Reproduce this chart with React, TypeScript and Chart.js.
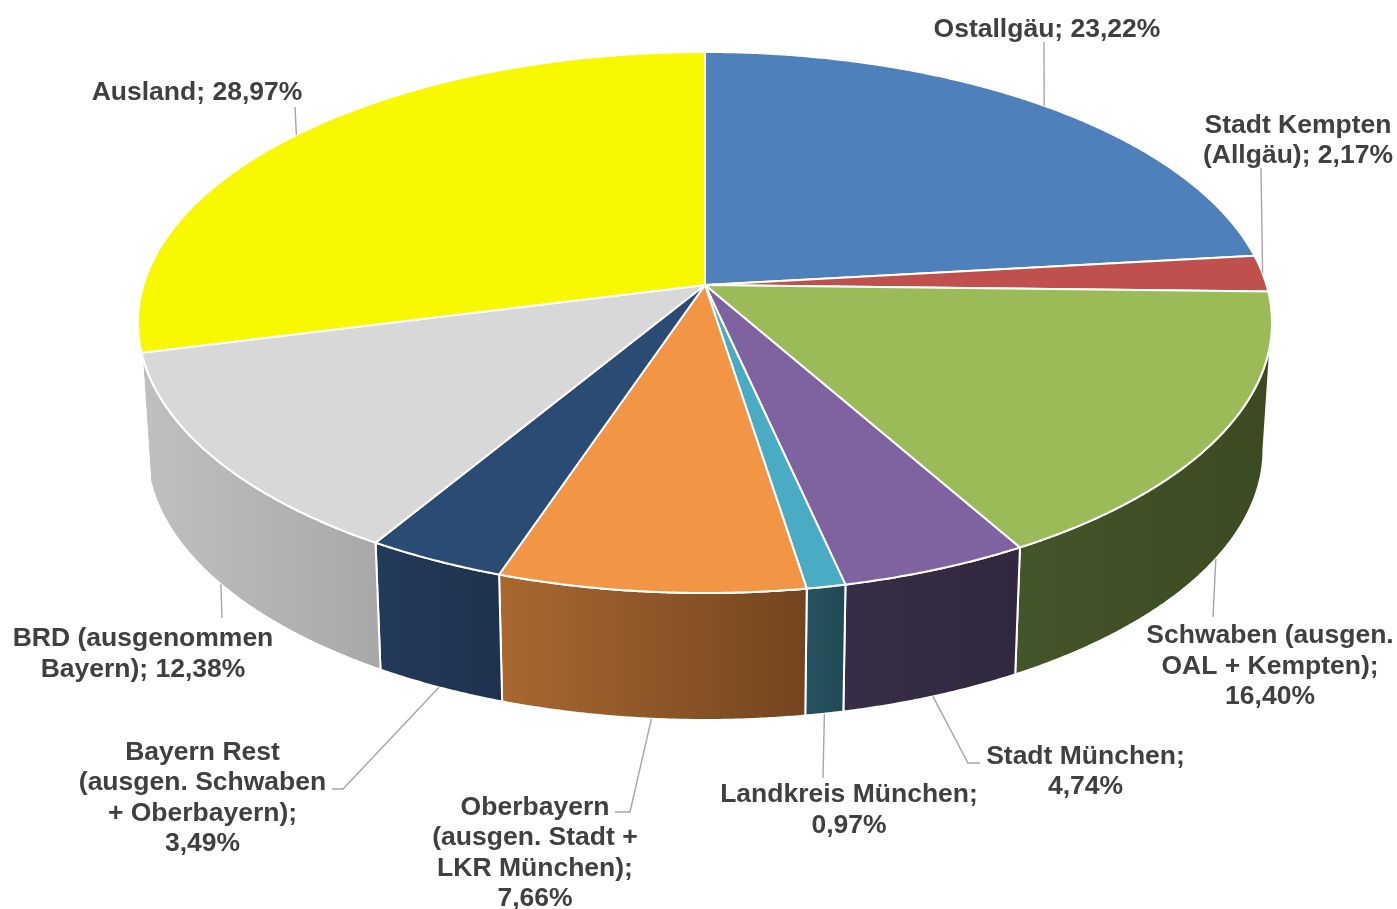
import React, { useEffect, useRef } from 'react';
import { Chart, registerables } from 'chart.js';

Chart.register(...registerables);

// ---------- data ----------
const categories = [
  'Ostallgäu',
  'Stadt Kempten (Allgäu)',
  'Schwaben (ausgen. OAL + Kempten)',
  'Stadt München',
  'Landkreis München',
  'Oberbayern (ausgen. Stadt + LKR München)',
  'Bayern Rest (ausgen. Schwaben + Oberbayern)',
  'BRD (ausgenommen Bayern)',
  'Ausland',
];
const shares = [23.22, 2.17, 16.4, 4.74, 0.97, 7.66, 3.49, 12.38, 28.97];

// label text lines; {v} is replaced by the formatted share
const labelLines = [
  ['Ostallgäu; {v}'],
  ['Stadt Kempten', '(Allgäu); {v}'],
  ['Schwaben (ausgen.', 'OAL + Kempten);', '{v}'],
  ['Stadt München;', '{v}'],
  ['Landkreis München;', '{v}'],
  ['Oberbayern', '(ausgen. Stadt +', 'LKR München);', '{v}'],
  ['Bayern Rest', '(ausgen. Schwaben', '+ Oberbayern);', '{v}'],
  ['BRD (ausgenommen', 'Bayern); {v}'],
  ['Ausland; {v}'],
];

// ---------- styles / layout ----------
const topColors = ['#4E80BC', '#C0504D', '#9BBB59', '#7F63A1', '#4AABC5', '#F29544', '#2A4B73', '#D8D8D8', '#F8F800'];
const wallColors: [string, string][] = [
  ['#2F4D71', '#2F4D71'],
  ['#73302E', '#73302E'],
  ['#43552A', '#3C4A21'],
  ['#382D48', '#31283F'],
  ['#25535F', '#204A55'],
  ['#AA6830', '#73451F'],
  ['#243A5B', '#1E324E'],
  ['#C0C0C0', '#A8A8A8'],
  ['#A6A600', '#A6A600'],
];
const labelPos: [number, number][] = [
  [1047, 30],
  [1298, 125.5],
  [1270, 636],
  [1085.5, 756.5],
  [849, 795],
  [535, 807.5],
  [202.5, 752.5],
  [143, 639],
  [197, 93],
];
const leaderVia: [number, number][][] = [
  [[1044, 42]],
  [[1261, 168]],
  [[1213, 617]],
  [[968, 763], [980, 763]],
  [[823, 778]],
  [[630, 812], [615, 812]],
  [[343, 789], [332, 789]],
  [[222, 618]],
  [[295, 107]],
];

const CX = 705;
const CY = 285;
const RX = 561.5;
const RY = 265.3;
const PK = -0.1386;
const DEPTH = 127;
const BOT_SCALE = 0.985;
const VIS_A = (8 * Math.PI) / 180;
const VIS_B = (166 * Math.PI) / 180;
const FONT = 'bold 26.5px "Liberation Sans", Arial, sans-serif';
const LINE_H = 30.5;

const fmt = (v: number) => v.toFixed(2).replace('.', ',') + '%';

function topPt(a: number): [number, number] {
  const u = Math.cos(a);
  const v = Math.sin(a);
  const d = 1 + PK * v;
  return [CX + (RX * u) / d, CY + (RY * v) / d];
}
function botPt(a: number): [number, number] {
  const [x, y] = topPt(a);
  return [CX + BOT_SCALE * (x - CX), y + DEPTH];
}

const pie3d = {
  id: 'pie3d',
  beforeDatasetsDraw(chart: any) {
    const ctx: CanvasRenderingContext2D = chart.ctx;
    const meta = chart.getDatasetMeta(0);
    ctx.save();
    ctx.lineJoin = 'round';
    // walls
    meta.data.forEach((el: any, i: number) => {
      const s = el.startAngle;
      const e = el.endAngle;
      const a = Math.max(s, VIS_A);
      const b = Math.min(e, VIS_B);
      if (b <= a) return;
      const n = Math.max(2, Math.ceil((b - a) / 0.005));
      const pts: [number, number][] = [];
      for (let k = 0; k <= n; k++) pts.push(topPt(a + ((b - a) * k) / n));
      for (let k = n; k >= 0; k--) pts.push(botPt(a + ((b - a) * k) / n));
      const xs = pts.map((p) => p[0]);
      const x0 = Math.min(...xs);
      const x1 = Math.max(...xs);
      const g = ctx.createLinearGradient(x0, 0, x1 + 0.01, 0);
      g.addColorStop(0, wallColors[i][0]);
      g.addColorStop(1, wallColors[i][1]);
      ctx.beginPath();
      pts.forEach((p, k) => (k ? ctx.lineTo(p[0], p[1]) : ctx.moveTo(p[0], p[1])));
      ctx.closePath();
      ctx.fillStyle = g;
      ctx.fill();
      ctx.strokeStyle = '#FFFFFF';
      ctx.lineWidth = 2;
      ctx.stroke();
    });
    // top faces
    meta.data.forEach((el: any, i: number) => {
      const s = el.startAngle;
      const e = el.endAngle;
      const n = Math.max(2, Math.ceil((e - s) / 0.005));
      ctx.beginPath();
      ctx.moveTo(CX, CY);
      for (let k = 0; k <= n; k++) {
        const p = topPt(s + ((e - s) * k) / n);
        ctx.lineTo(p[0], p[1]);
      }
      ctx.closePath();
      ctx.fillStyle = topColors[i];
      ctx.fill();
      ctx.strokeStyle = '#FFFFFF';
      ctx.lineWidth = 2;
      ctx.stroke();
    });
    ctx.restore();
    return false;
  },
  afterDraw(chart: any) {
    const ctx: CanvasRenderingContext2D = chart.ctx;
    const meta = chart.getDatasetMeta(0);
    ctx.save();
    // leader lines
    ctx.strokeStyle = '#A6A6A6';
    ctx.lineWidth = 1.4;
    meta.data.forEach((el: any, i: number) => {
      const m = (el.startAngle + el.endAngle) / 2;
      const anchor = m >= VIS_A && m <= VIS_B ? botPt(m) : topPt(m);
      ctx.beginPath();
      ctx.moveTo(anchor[0], anchor[1]);
      leaderVia[i].forEach((p) => ctx.lineTo(p[0], p[1]));
      ctx.stroke();
    });
    // labels
    ctx.font = FONT;
    ctx.fillStyle = '#404040';
    ctx.textAlign = 'center';
    ctx.textBaseline = 'middle';
    labelLines.forEach((lines, i) => {
      const [x, y] = labelPos[i];
      lines.forEach((ln, k) => {
        ctx.fillText(ln.replace('{v}', fmt(shares[i])), x, y + k * LINE_H);
      });
    });
    ctx.restore();
  },
};

export default function App() {
  const ref = useRef<HTMLCanvasElement | null>(null);
  useEffect(() => {
    if (!ref.current) return;
    const chart = new Chart(ref.current, {
      type: 'pie',
      data: {
        labels: categories,
        datasets: [
          {
            data: shares,
            backgroundColor: topColors,
            borderColor: '#FFFFFF',
            borderWidth: 2,
          },
        ],
      },
      options: {
        animation: false,
        responsive: true,
        maintainAspectRatio: false,
        devicePixelRatio: 1,
        rotation: 0,
        circumference: 360,
        layout: { padding: 0 },
        plugins: {
          legend: { display: false },
          tooltip: { enabled: false },
          title: { display: false },
        },
      },
      plugins: [pie3d],
    });
    return () => chart.destroy();
  }, []);
  return (
    <div style={{ position: 'absolute', left: 0, top: 0, width: 1397, height: 909, background: '#FFFFFF' }}>
      <canvas ref={ref} />
    </div>
  );
}
